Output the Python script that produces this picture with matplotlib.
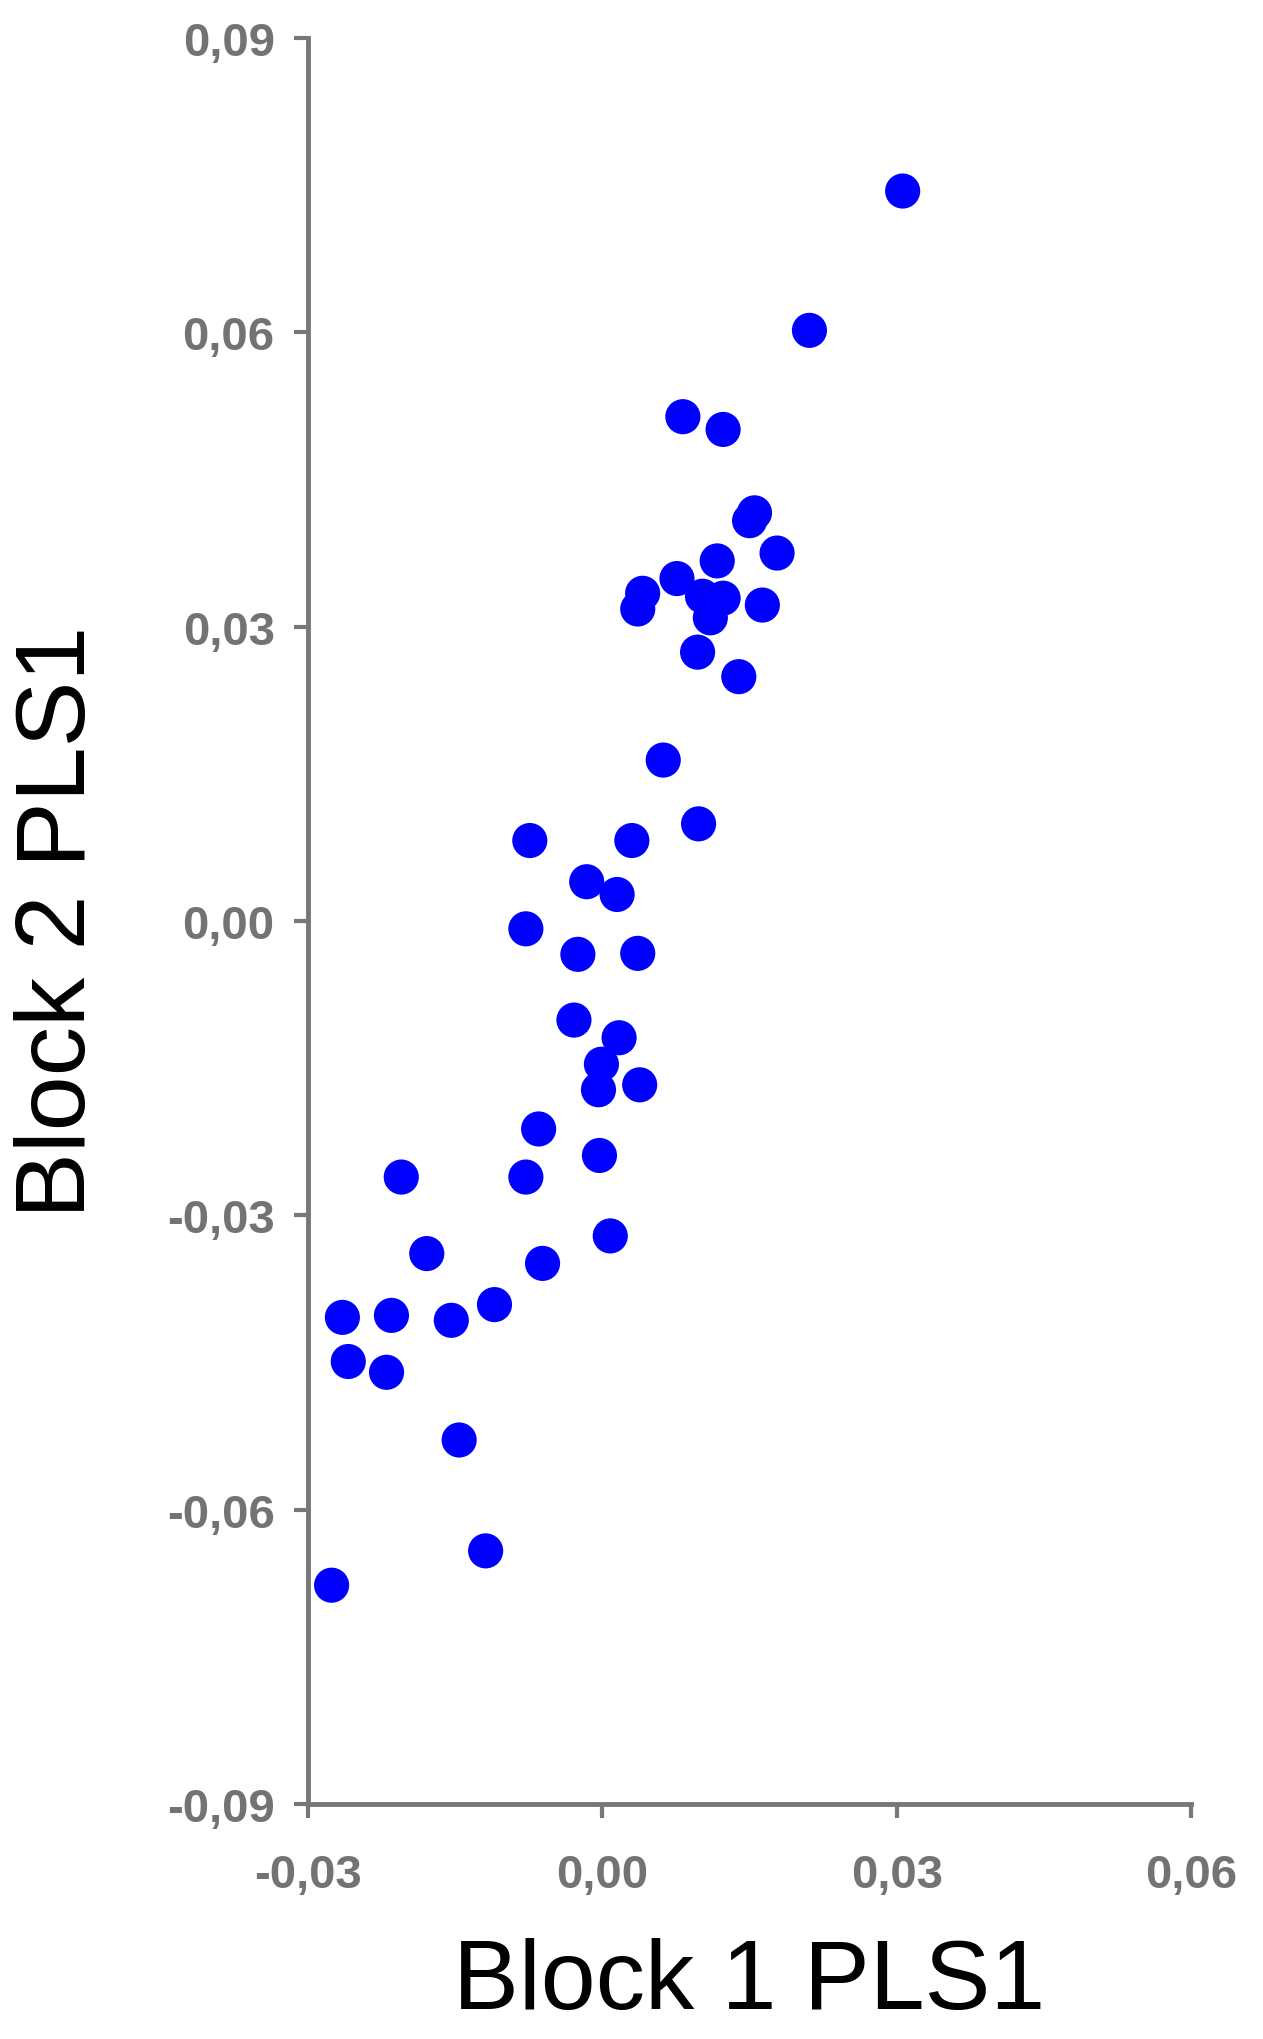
import numpy as np
import matplotlib.pyplot as plt

# PLS1 scores
block1 = [0.0306, 0.0211, 0.0082, 0.0123, 0.0155, 0.0150, 0.0178, 0.0117, 0.0076, 0.0041,
          0.0036, 0.0102, 0.0123, 0.0110, 0.0163, 0.0097, 0.0139, 0.0062, 0.0098, -0.0074,
          0.0030, -0.0016, 0.0015, -0.0078, -0.0025, 0.0036, -0.0029, 0.0017, -0.0001, -0.0004,
          0.0038, -0.0065, -0.0078, -0.0003, -0.0205, 0.0008, -0.0061, -0.0179, -0.0110, -0.0154,
          -0.0265, -0.0215, -0.0259, -0.0220, -0.0146, -0.0119, -0.0276]
block2 = [0.0744, 0.0602, 0.0514, 0.0501, 0.0416, 0.0408, 0.0375, 0.0367, 0.0349, 0.0334,
          0.0318, 0.0331, 0.0329, 0.0309, 0.0322, 0.0274, 0.0249, 0.0164, 0.0099, 0.0082,
          0.0082, 0.0040, 0.0027, -0.0008, -0.0034, -0.0033, -0.0101, -0.0119, -0.0146, -0.0172,
          -0.0167, -0.0212, -0.0261, -0.0239, -0.0261, -0.0321, -0.0349, -0.0339, -0.0391, -0.0407,
          -0.0404, -0.0402, -0.0449, -0.0460, -0.0529, -0.0642, -0.0677]

xticks = [-0.03, 0.00, 0.03, 0.06]
yticks = [-0.09, -0.06, -0.03, 0.00, 0.03, 0.06, 0.09]

plt.rcParams['font.family'] = ['Liberation Sans', 'DejaVu Sans']

fig = plt.figure(figsize=(12.63, 20.40), dpi=100)
ax = fig.add_axes([0.2439, 0.1152, 0.6992, 0.8657])

ax.scatter(block1, block2, s=640, color='#0000ff', edgecolors='none', clip_on=False, zorder=3)

ax.set_xlim(-0.03, 0.06)
ax.set_ylim(-0.09, 0.09)

for side in ['top', 'right']:
    ax.spines[side].set_visible(False)
for side in ['left', 'bottom']:
    ax.spines[side].set_color('#777777')
    ax.spines[side].set_linewidth(3.5)
    ax.spines[side].set_capstyle('projecting')

ax.set_xticks(xticks)
ax.set_yticks(yticks)
fmt = lambda v: ('%.2f' % v).replace('.', ',')
ax.set_xticklabels([fmt(v) for v in xticks])
ax.set_yticklabels([fmt(v) for v in yticks])
ax.tick_params(axis='x', length=10, width=3.0, color='#777777', pad=25,
               labelsize=34, labelcolor='#737373')
ax.tick_params(axis='y', length=10, width=3.0, color='#777777', pad=14,
               labelsize=34, labelcolor='#737373')
for lab in ax.get_xticklabels() + ax.get_yticklabels():
    lab.set_fontweight('bold')

ax.set_xlabel('Block 1 PLS1', fontsize=71, color='black', va='center')
ax.set_ylabel('Block 2 PLS1', fontsize=71, color='black', va='center')
ax.xaxis.set_label_coords(0.5, -0.101)
ax.yaxis.set_label_coords(-0.282, 0.5)

fig.savefig('out.png', dpi=100)
